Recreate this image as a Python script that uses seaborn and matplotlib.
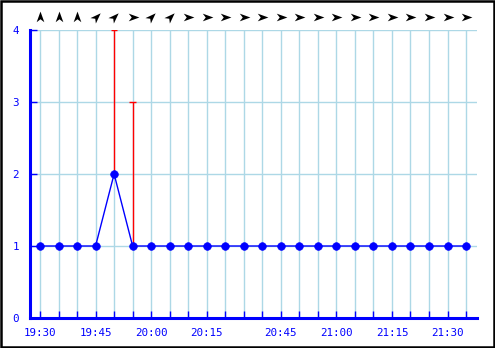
import numpy as np
import pandas as pd
import matplotlib
matplotlib.use("Agg")
import matplotlib.pyplot as plt
from matplotlib.path import Path
from matplotlib.markers import MarkerStyle
from matplotlib.transforms import Affine2D, blended_transform_factory
from matplotlib.patches import Rectangle
import seaborn as sns

# ---- data ----
times = ["19:30", "19:35", "19:40", "19:45", "19:50", "19:55", "20:00", "20:05",
         "20:10", "20:15", "20:20", "20:25", "20:40", "20:45", "20:50", "20:55",
         "21:00", "21:05", "21:10", "21:15", "21:20", "21:25", "21:30", "21:35"]
speed = [1, 1, 1, 1, 2, 1, 1, 1, 1, 1, 1, 1, 1, 1, 1, 1, 1, 1, 1, 1, 1, 1, 1, 1]
gust = [None, None, None, None, 4, 3, None, None, None, None, None, None,
        None, None, None, None, None, None, None, None, None, None, None, None]
# direction the arrow points (degrees, counter-clockwise from east)
arrow_dir = [90, 90, 90, 45, 45, 0, 45, 45, 0, 0, 0, 0,
             0, 0, 0, 0, 0, 0, 0, 0, 0, 0, 0, 0]
shown_labels = ["19:30", "19:45", "20:00", "20:15", "20:45", "21:00", "21:15", "21:30"]
y_ticks = [0, 1, 2, 3, 4]

df = pd.DataFrame({"pos": np.arange(len(times)), "time": times, "speed": speed})

sns.set_theme(style="white")
plt.rcParams["font.family"] = ["DejaVu Sans Mono", "DejaVu Sans"]

W, H = 495, 348
fig = plt.figure(figsize=(W / 100, H / 100), dpi=100)
ax = fig.add_axes([30 / W, (H - 318) / H, (477 - 30) / W, (318 - 30) / H])

BLUE = "#0000ff"
GRID = "#add8e6"

# grid
ax.set_axisbelow(True)
ax.grid(True, color=GRID, linewidth=1.0)

# gust lines
for i, g in enumerate(gust):
    if g is not None:
        ax.vlines(i, speed[i], g, color="red", linewidth=1.0, zorder=2)
        ax.hlines(g, i - 0.18, i + 0.18, color="red", linewidth=1.0, zorder=2)

sns.lineplot(data=df, x="pos", y="speed", ax=ax, color=BLUE, linewidth=1.0,
             marker="o", markersize=5.5, markeredgecolor=BLUE, markerfacecolor=BLUE,
             markeredgewidth=0.5, zorder=3)

ax.set_xlim(-0.54, len(times) - 1 + 0.59)
ax.set_ylim(0, 4)
ax.set_xlabel("")
ax.set_ylabel("")

ax.set_xticks(df["pos"])
ax.set_xticklabels([t if t in shown_labels else "" for t in times])
ax.set_yticks(y_ticks)
ax.set_yticklabels([str(v) for v in y_ticks])

ax.tick_params(axis="x", direction="in", length=5, width=1, color=BLUE,
               labelcolor=BLUE, labelsize=7.8, pad=7, bottom=True)
ax.tick_params(axis="y", direction="in", length=5, width=1, color=BLUE,
               labelcolor=BLUE, labelsize=7.8, pad=8, left=True)

for s in ["top", "right"]:
    ax.spines[s].set_visible(False)
for s in ["left", "bottom"]:
    ax.spines[s].set_color(BLUE)
    ax.spines[s].set_linewidth(2.2)

# wind direction arrows (narrow notched dart)
arrow_path = Path(
    [(1.0, 0.0), (-0.8, 0.65), (-0.3, 0.0), (-0.8, -0.65), (1.0, 0.0)],
    [Path.MOVETO, Path.LINETO, Path.LINETO, Path.LINETO, Path.CLOSEPOLY])
trans = blended_transform_factory(ax.transData, ax.transAxes)
for i, a in enumerate(arrow_dir):
    m = MarkerStyle(arrow_path, transform=Affine2D().rotate_deg(a))
    ax.plot([i], [(318 - 17) / 288], marker=m, markersize=8.5, color="black",
            markeredgewidth=0, linestyle="none", transform=trans, clip_on=False)

# figure border
fig.patches.append(Rectangle((0.75 / W, 0.75 / H), 1 - 2 / W, 1 - 2 / H,
                             transform=fig.transFigure, fill=False,
                             edgecolor="black", linewidth=1.8))

fig.savefig("out.png", dpi=100)
